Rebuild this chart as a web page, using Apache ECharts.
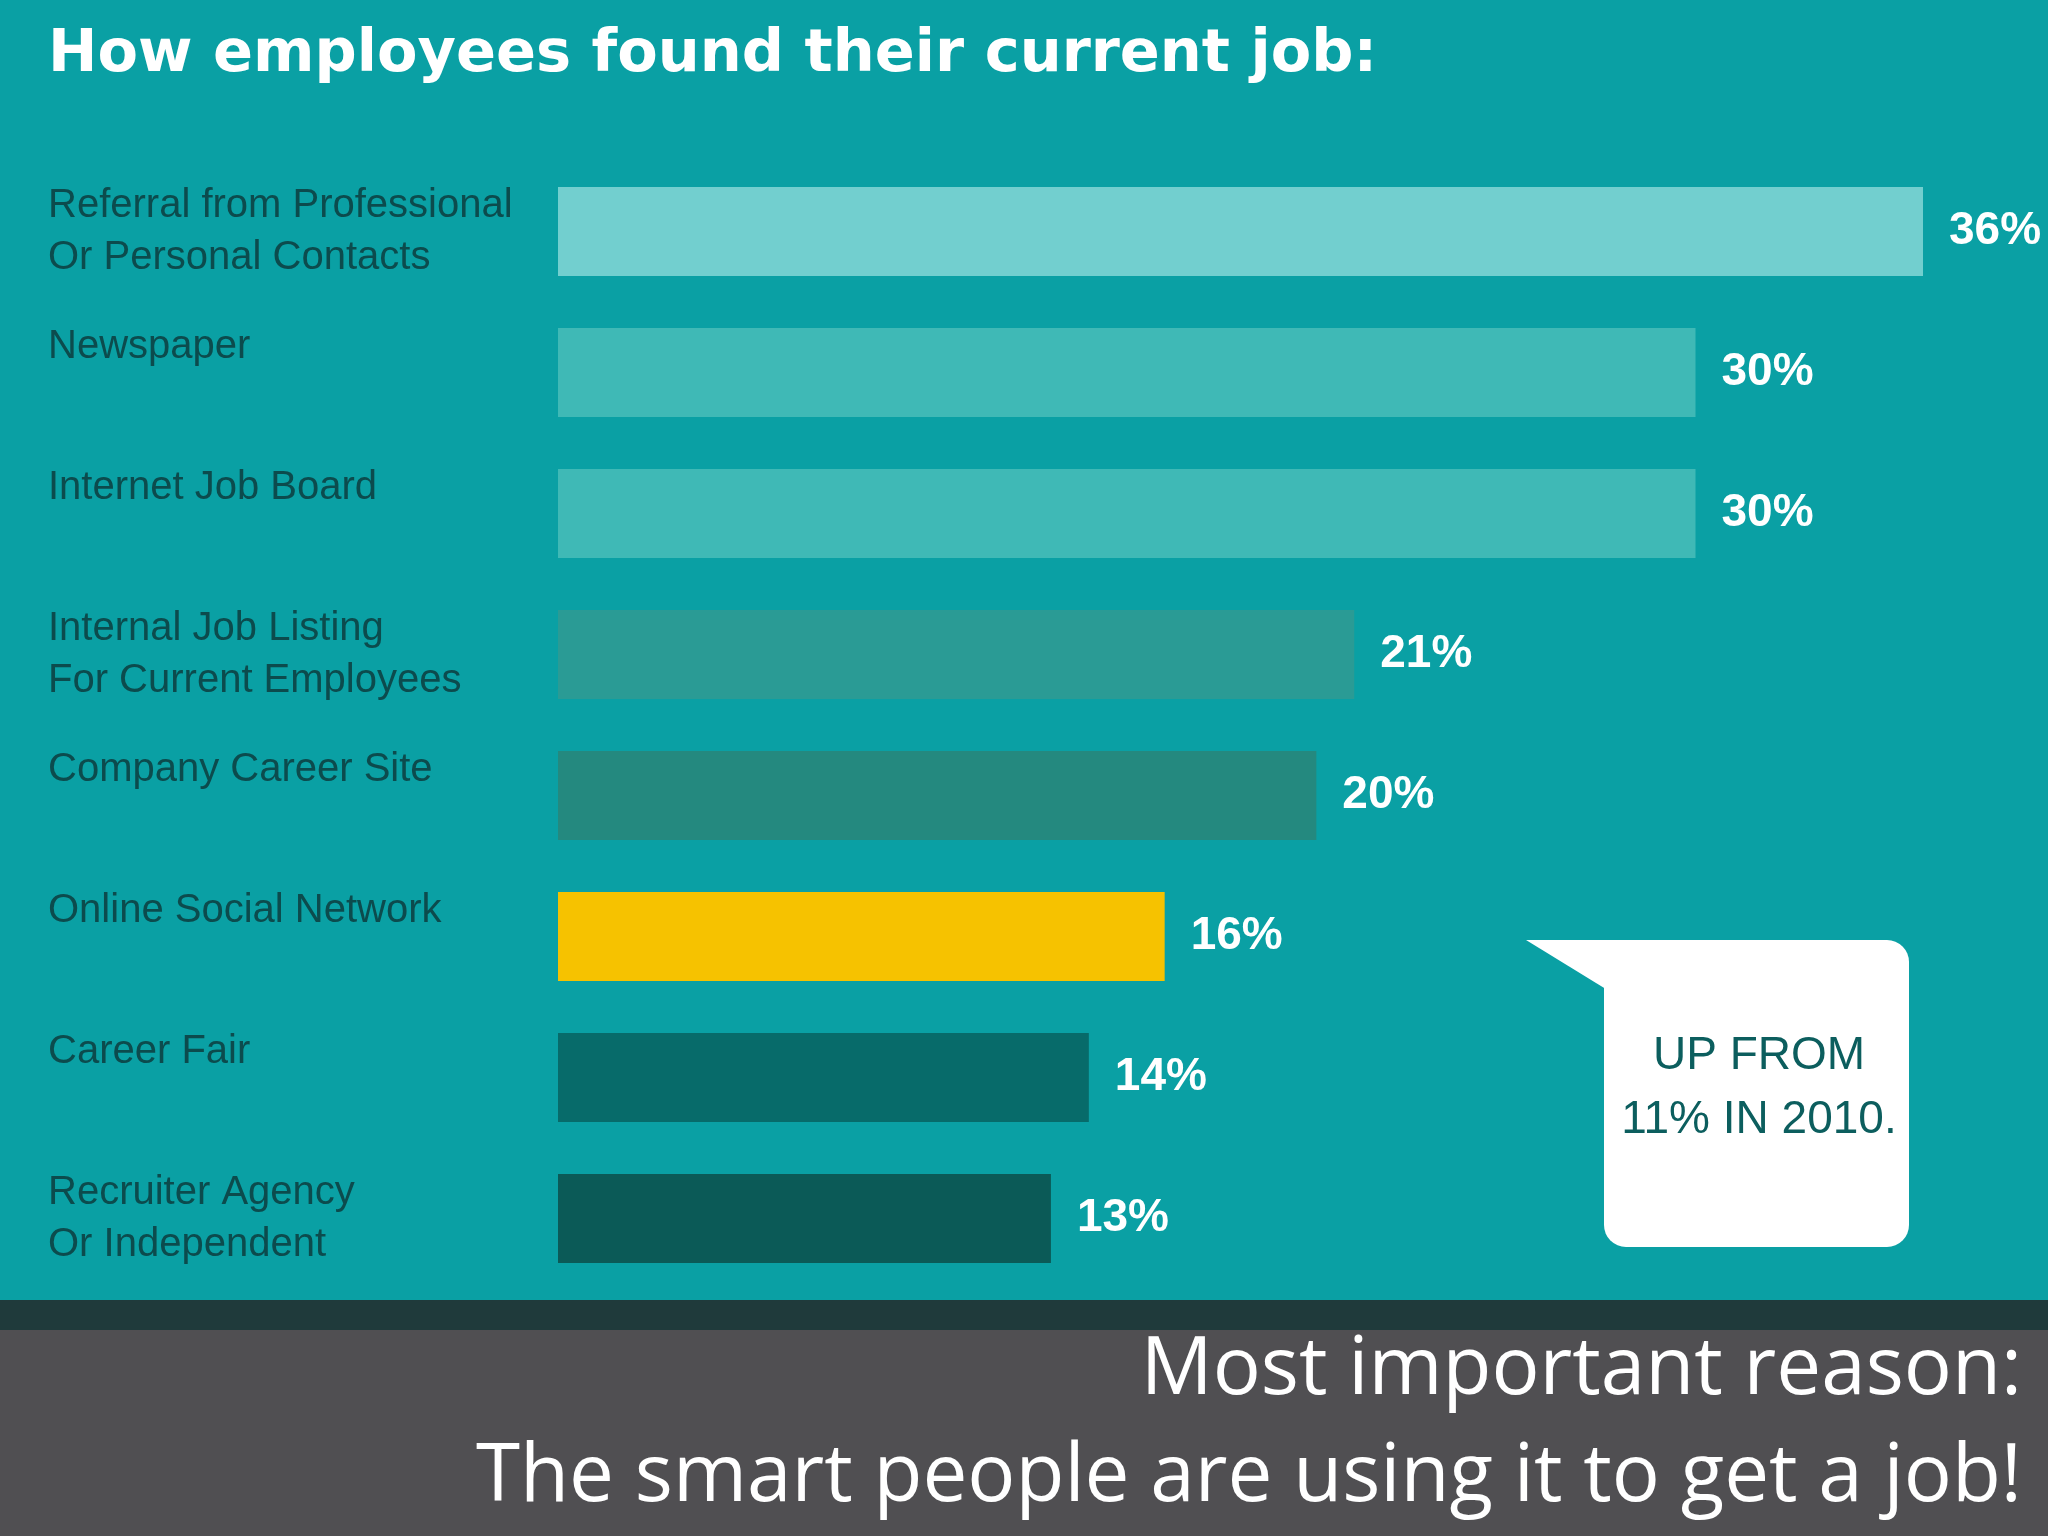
<!DOCTYPE html>
<html><head><meta charset="utf-8">
<script src="https://cdn.jsdelivr.net/npm/echarts@6/dist/echarts.min.js"></script>
<style>html,body{margin:0;padding:0;background:#504f52}#c{width:2048px;height:1536px}</style>
</head><body><div id="c"></div>
<script>
const categories = ["Referral from Professional\nOr Personal Contacts","Newspaper\n ","Internet Job Board\n ","Internal Job Listing\nFor Current Employees","Company Career Site\n ","Online Social Network\n ","Career Fair\n ","Recruiter Agency\nOr Independent"];
const values = [36,30,30,21,20,16,14,13];
const barColors = ["#72cfcf","#3fb9b6","#3fb9b6","#2a9b95","#24897f","#f6c200","#076b6a","#0b5a57"];
const chart = echarts.init(document.getElementById('c'));
const narrow = "'Liberation Sans Narrow','Liberation Sans',sans-serif";
chart.setOption({
  backgroundColor:'#504f52',
  animation:false,
  grid:{left:558,right:2048-1923,top:161,height:1128},
  xAxis:{type:'value',min:0,max:36,show:false},
  yAxis:{type:'category',inverse:true,data:categories,
    axisLine:{show:false},axisTick:{show:false},
    axisLabel:{align:'left',margin:510,color:'#0c4b4d',fontSize:40,lineHeight:52,fontFamily:narrow}},
  graphic:[
    {type:'rect',z:-10,shape:{x:0,y:0,width:2048,height:1300},style:{fill:'#0aa0a4'}},
    {type:'rect',z:-10,shape:{x:0,y:1300,width:2048,height:30},style:{fill:'#1f3a3b'}},
    {type:'text',left:48,top:26,style:{text:'How employees found their current job:',fill:'#ffffff',font:"bold 59px 'DejaVu Sans', sans-serif"}},
    {type:'polygon',z:5,shape:{points:[[1526,940],[1640,940],[1640,1010]]},style:{fill:'#ffffff'}},
    {type:'rect',z:5,shape:{x:1604,y:940,width:305,height:307,r:22},style:{fill:'#ffffff'}},
    {type:'text',z:6,style:{text:'UP FROM\n11% IN 2010.',x:1759,y:1088,align:'center',verticalAlign:'middle',lineHeight:64,fill:'#0c5e5e',font:"46px "+narrow}},
    {type:'text',style:{text:'Most important reason:',x:2022,y:1371,align:'right',verticalAlign:'middle',fill:'#ffffff',font:"80px 'Open Sans', sans-serif"}},
    {type:'text',style:{text:'The smart people are using it to get a job!',x:2022,y:1478,align:'right',verticalAlign:'middle',fill:'#ffffff',font:"80px 'Open Sans', sans-serif"}}
  ],
  series:[{type:'bar',barWidth:89,
    data:values.map((v,i)=>({value:v,itemStyle:{color:barColors[i]}})),
    label:{show:true,position:'right',distance:26,formatter:'{c}%',color:'#ffffff',fontSize:46,fontWeight:'bold',fontFamily:narrow}}]
});
</script></body></html>
